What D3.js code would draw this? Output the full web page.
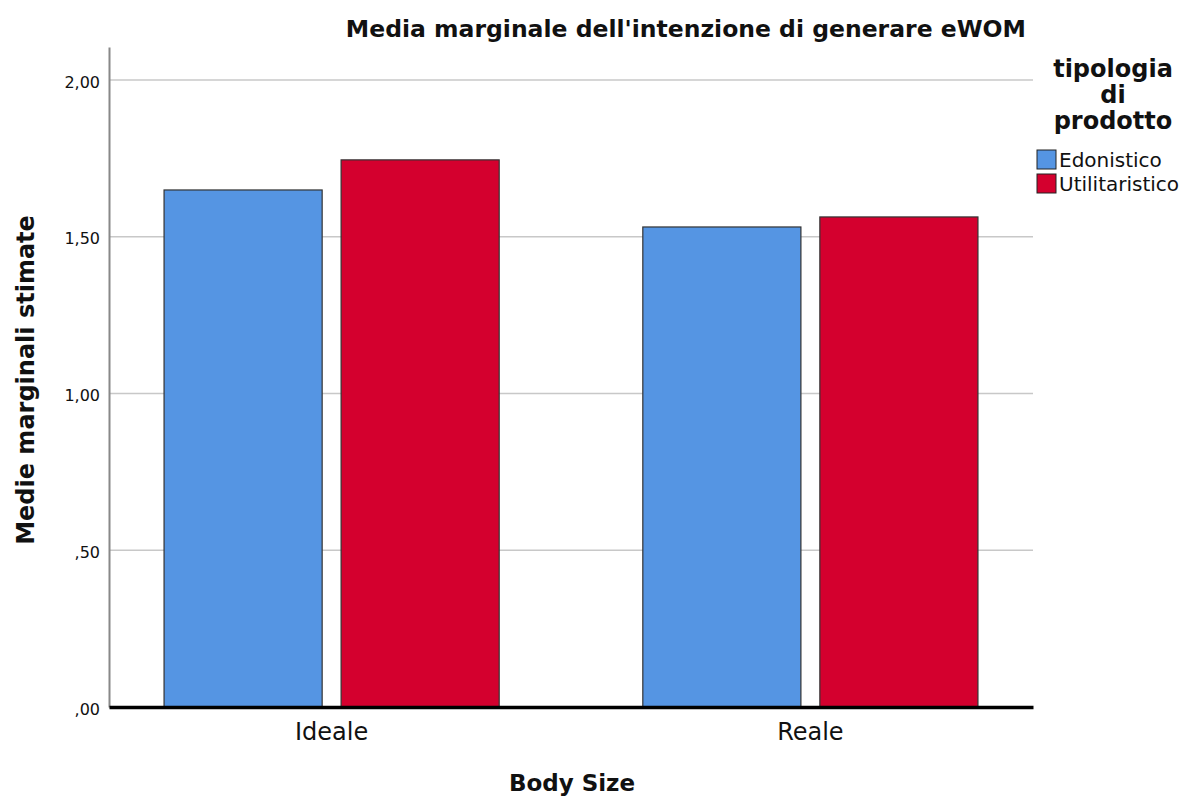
<!DOCTYPE html>
<html>
<head>
<meta charset="utf-8">
<script src="https://d3js.org/d3.v7.min.js"></script>
<style>
  body { margin: 0; background: #fff; }
  text { font-family: "DejaVu Sans", sans-serif; fill: #111; }
</style>
</head>
<body>
<svg id="drawing_region"></svg>
<script>
const categories = ['Ideale', 'Reale'];
const series = ['Edonistico', 'Utilitaristico'];
const edonistico = [1.649, 1.531];
const utilitaristico = [1.745, 1.563];
const yticks = [0, 0.5, 1.0, 1.5, 2.0];

const values = { 'Edonistico': edonistico, 'Utilitaristico': utilitaristico };
const data = categories.map( (c, i) => ({
    label: c,
    bars: series.map( s => ({ key: s, value: values[s][i] }) )
}));

var config = {
    parent: '#drawing_region',
    width: 1193,
    height: 796,
    margin: {top:47, right:160, bottom:89, left:109},
    title: "Media marginale dell'intenzione di generare eWOM",
    xlabel: 'Body Size',
    ylabel: 'Medie marginali stimate',
    legend_title: ['tipologia', 'di', 'prodotto'],
    colors: ['#5595e3', '#d4002e']
};

class GroupedBarChart {
    constructor( config, data ) {
        this.config = config;
        this.data = data;
        this.init();
    }
    init() {
        let self = this;
        self.svg = d3.select( self.config.parent )
            .attr('width', self.config.width)
            .attr('height', self.config.height);
        self.chart = self.svg.append('g')
            .attr('transform', `translate(${self.config.margin.left}, ${self.config.margin.top})`);
        self.inner_width = self.config.width - self.config.margin.left - self.config.margin.right;
        self.inner_height = self.config.height - self.config.margin.top - self.config.margin.bottom;

        self.yscale = d3.scaleLinear()
            .domain([0, 2.105])
            .range([self.inner_height, 0]);
        self.xscale = d3.scaleBand()
            .domain(categories)
            .range([0, self.inner_width])
            .paddingInner(0.30)
            .paddingOuter(0.115);
        self.xsub = d3.scaleBand()
            .domain(series)
            .range([0, self.xscale.bandwidth()])
            .paddingInner(0.107);
        self.color = d3.scaleOrdinal()
            .domain(series)
            .range(self.config.colors);

        // title
        self.svg.append('text')
            .style('font-size', '23.5px')
            .style('font-weight', 'bold')
            .attr('text-anchor', 'end')
            .attr('x', 1026)
            .attr('y', 37)
            .text( self.config.title );
        // x label
        self.svg.append('text')
            .style('font-size', '23px')
            .style('font-weight', 'bold')
            .attr('text-anchor', 'middle')
            .attr('x', 572)
            .attr('y', 791)
            .text( self.config.xlabel );
        // y label
        self.svg.append('text')
            .style('font-size', '24px')
            .style('font-weight', 'bold')
            .attr('text-anchor', 'middle')
            .attr('transform', `translate(34, 380) rotate(-90)`)
            .text( self.config.ylabel );
    }
    render() {
        let self = this;
        // gridlines
        self.chart.append('g')
            .selectAll('line')
            .data(yticks.filter(d => d > 0))
            .join('line')
            .attr('x1', 0)
            .attr('x2', self.inner_width)
            .attr('y1', d => self.yscale(d))
            .attr('y2', d => self.yscale(d))
            .attr('stroke', '#c8c8c8')
            .attr('stroke-width', 1.5);

        // y axis
        const yaxis = d3.axisLeft( self.yscale )
            .tickValues(yticks)
            .tickSize(0)
            .tickPadding(9)
            .tickFormat(d => d3.format('.2f')(d).replace('.', ',').replace(/^0,/, ','));
        const yg = self.chart.append('g').call(yaxis);
        yg.select('.domain').attr('stroke', '#888').attr('stroke-width', 2);
        yg.selectAll('text')
            .style('font-size', '16px')
            .style('font-family', '"DejaVu Sans", sans-serif')
            .attr('dy', '0.45em')
            .attr('fill', '#222');

        // bars
        const groups = self.chart.selectAll('.group')
            .data(self.data)
            .join('g')
            .attr('class', 'group')
            .attr('transform', d => `translate(${self.xscale(d.label)}, 0)`);
        groups.selectAll('rect')
            .data(d => d.bars)
            .join('rect')
            .attr('x', d => self.xsub(d.key))
            .attr('y', d => self.yscale(d.value))
            .attr('width', self.xsub.bandwidth())
            .attr('height', d => self.yscale(0) - self.yscale(d.value))
            .attr('fill', d => self.color(d.key))
            .attr('stroke', '#333')
            .attr('stroke-width', 1.2);

        // x axis (thick zero line)
        const xaxis = d3.axisBottom( self.xscale )
            .tickSize(0)
            .tickPadding(16);
        const xg = self.chart.append('g')
            .attr('transform', `translate(0, ${self.inner_height})`)
            .call(xaxis);
        xg.select('.domain').attr('stroke', '#000').attr('stroke-width', 3.5);
        xg.selectAll('text')
            .style('font-size', '24px')
            .style('font-family', '"DejaVu Sans", sans-serif')
            .attr('fill', '#222');

        // legend
        const lx = 1113;
        const legend = self.svg.append('g');
        legend.selectAll('text.ltitle')
            .data(self.config.legend_title)
            .join('text')
            .attr('class', 'ltitle')
            .style('font-size', '24px')
            .style('font-weight', 'bold')
            .attr('text-anchor', 'middle')
            .attr('x', lx)
            .attr('y', (d, i) => 77 + i * 26)
            .text(d => d);
        const items = legend.selectAll('g.item')
            .data(series)
            .join('g')
            .attr('class', 'item')
            .attr('transform', (d, i) => `translate(1037, ${150 + i * 24})`);
        items.append('rect')
            .attr('width', 19)
            .attr('height', 19)
            .attr('fill', d => self.color(d))
            .attr('stroke', '#222')
            .attr('stroke-width', 1);
        items.append('text')
            .attr('x', 22)
            .attr('y', 17)
            .style('font-size', '20px')
            .text(d => d);
    }
}

const chart = new GroupedBarChart( config, data );
chart.render();
</script>
</body>
</html>
